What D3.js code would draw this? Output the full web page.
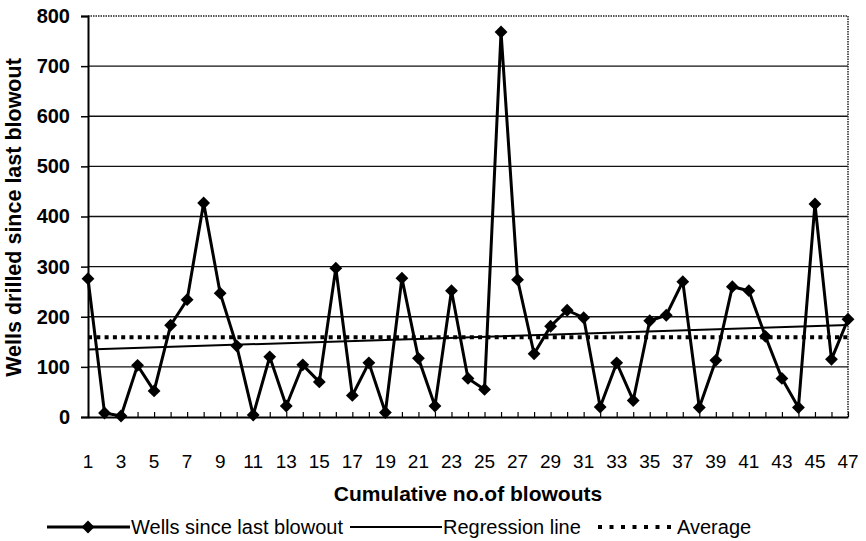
<!DOCTYPE html>
<html>
<head>
<meta charset="utf-8">
<script src="https://cdn.jsdelivr.net/npm/d3@7"></script>
<style>
  body { margin: 0; background: #fff; }
  svg { font-family: Arial, "Liberation Sans", sans-serif; }
</style>
</head>
<body>
<div id="chart"></div>
<script>
// wells drilled between successive blowouts
var blowoutNo = d3.range(1, 48);
var wellsSince = [276, 8, 2, 103, 52, 183, 234, 427, 247, 142,
                  4, 120, 22, 104, 70, 297, 43, 108, 9, 277,
                  117, 22, 252, 77, 55, 768, 274, 126, 181, 213,
                  198, 20, 108, 33, 192, 203, 270, 19, 113, 260,
                  252, 161, 77, 19, 425, 115, 195];
var yTicks = [0, 100, 200, 300, 400, 500, 600, 700, 800];
var xTickLabels = blowoutNo.filter(function(d) { return d % 2 == 1; });
var legendNames = ["Wells since last blowout", "Regression line", "Average"];

var width = 866, height = 541;
var margin = {left: 88, right: 18, top: 16, bottom: 124};

var svg = d3.select("#chart").append("svg")
    .attr("width", width)
    .attr("height", height);

var x = d3.scaleLinear()
    .domain([1, 47])
    .range([margin.left, width - margin.right]);

var y = d3.scaleLinear()
    .domain([0, 800])
    .range([height - margin.bottom, margin.top]);

// average + least squares fit
var avg = d3.mean(wellsSince);
var mx = d3.mean(blowoutNo);
var sxy = d3.sum(blowoutNo, function(d, i) { return (d - mx) * (wellsSince[i] - avg); });
var sxx = d3.sum(blowoutNo, function(d) { return (d - mx) * (d - mx); });
var slope = sxy / sxx, icpt = avg - slope * mx;

// gridlines
svg.append("g").selectAll("line")
    .data(yTicks.slice(1, -1))
    .enter().append("line")
    .attr("x1", x(1)).attr("x2", x(47))
    .attr("y1", y).attr("y2", y)
    .attr("stroke", "#111")
    .attr("stroke-width", 1.4);

// plot border (top/right dotted)
svg.append("path")
    .attr("d", "M" + x(1) + "," + y(800) + "H" + x(47) + "V" + y(0))
    .attr("fill", "none")
    .attr("stroke", "#222")
    .attr("stroke-width", 1.5)
    .attr("stroke-dasharray", "1.5,1");

// y axis
var yAxis = svg.append("g")
    .attr("transform", "translate(" + x(1) + ",0)")
    .call(d3.axisLeft(y).tickValues(yTicks).tickSize(7).tickPadding(11));
yAxis.select(".domain").attr("stroke", "#000").attr("stroke-width", 2);
yAxis.selectAll(".tick line").attr("stroke", "#000").attr("stroke-width", 1.5);
yAxis.selectAll("text")
    .attr("fill", "#000")
    .style("font-size", "20px")
    .style("font-weight", "bold");

// x axis: ticks point up into the plot
var xAxis = svg.append("g")
    .attr("transform", "translate(0," + y(0) + ")")
    .call(d3.axisBottom(x).tickValues(blowoutNo).tickSizeInner(-5).tickSizeOuter(0).tickFormat(""));
xAxis.select(".domain").attr("stroke", "#000").attr("stroke-width", 2);
xAxis.selectAll(".tick line").attr("stroke", "#000").attr("stroke-width", 1.2);

svg.append("g").selectAll("text")
    .data(xTickLabels)
    .enter().append("text")
    .attr("x", x)
    .attr("y", y(0) + 51)
    .attr("text-anchor", "middle")
    .style("font-size", "19px")
    .text(function(d) { return d; });

// axis titles
svg.append("text")
    .attr("x", (x(1) + x(47)) / 2)
    .attr("y", 501)
    .attr("text-anchor", "middle")
    .style("font-size", "21px")
    .style("font-weight", "bold")
    .text("Cumulative no.of blowouts");

svg.append("text")
    .attr("transform", "translate(21," + ((y(0) + y(800)) / 2 + 1) + ") rotate(-90)")
    .attr("text-anchor", "middle")
    .style("font-size", "21.5px")
    .style("font-weight", "bold")
    .text("Wells drilled since last blowout");

// average line
svg.append("line")
    .attr("x1", x(1)).attr("x2", x(47))
    .attr("y1", y(avg)).attr("y2", y(avg))
    .attr("stroke", "#000")
    .attr("stroke-width", 4)
    .attr("stroke-dasharray", "4,4.3");

// regression line
svg.append("line")
    .attr("x1", x(1)).attr("x2", x(47))
    .attr("y1", y(icpt + slope * 1)).attr("y2", y(icpt + slope * 47))
    .attr("stroke", "#000")
    .attr("stroke-width", 2);

// data series
var line = d3.line()
    .x(function(d, i) { return x(blowoutNo[i]); })
    .y(function(d) { return y(d); });

svg.append("path")
    .datum(wellsSince)
    .attr("d", line)
    .attr("fill", "none")
    .attr("stroke", "#000")
    .attr("stroke-width", 3)
    .attr("stroke-linejoin", "miter");

var diamond = d3.symbol().type(d3.symbolDiamond2).size(105);

svg.append("g").selectAll("path")
    .data(wellsSince)
    .enter().append("path")
    .attr("d", diamond)
    .attr("transform", function(d, i) { return "translate(" + x(blowoutNo[i]) + "," + y(d) + ")"; })
    .attr("fill", "#000");

// legend
var ly = 527;
var leg = svg.append("g");
leg.append("line").attr("x1", 47).attr("x2", 130).attr("y1", ly).attr("y2", ly)
    .attr("stroke", "#000").attr("stroke-width", 3);
leg.append("path").attr("d", diamond)
    .attr("transform", "translate(88," + ly + ")").attr("fill", "#000");
leg.append("text").attr("x", 131).attr("y", ly + 7).style("font-size", "20px").text(legendNames[0]);

leg.append("line").attr("x1", 350).attr("x2", 442).attr("y1", ly).attr("y2", ly)
    .attr("stroke", "#000").attr("stroke-width", 2);
leg.append("text").attr("x", 443).attr("y", ly + 7).style("font-size", "20px").text(legendNames[1]);

leg.append("line").attr("x1", 598).attr("x2", 676).attr("y1", ly).attr("y2", ly)
    .attr("stroke", "#000").attr("stroke-width", 4)
    .attr("stroke-dasharray", "4,7.5");
leg.append("text").attr("x", 677).attr("y", ly + 7).style("font-size", "20px").text(legendNames[2]);
</script>
</body>
</html>
